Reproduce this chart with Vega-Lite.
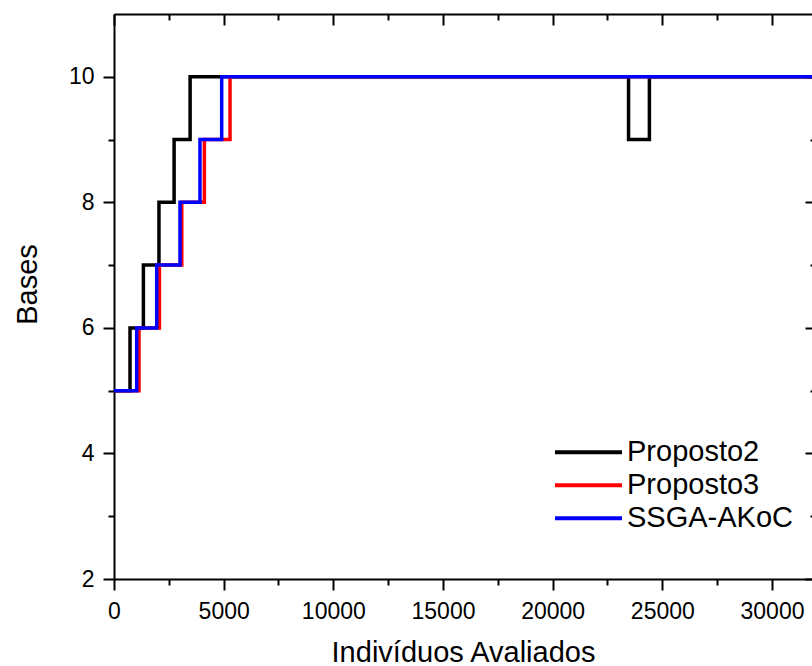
{
  "$schema": "https://vega.github.io/schema/vega-lite/v6.json",
  "width": 698,
  "height": 565,
  "autosize": {"type": "none"},
  "padding": {"left": 114, "top": 14, "right": 0, "bottom": 87},
  "background": "white",
  "config": {
    "view": {"stroke": null},
    "font": "Liberation Sans",
    "axis": {
      "grid": false,
      "domainColor": "black",
      "domainWidth": 2,
      "tickColor": "black",
      "tickWidth": 2,
      "labelColor": "black",
      "labelFont": "Liberation Sans",
      "labelFontSize": 23,
      "titleColor": "black",
      "titleFont": "Liberation Sans",
      "titleFontSize": 29,
      "titleFontWeight": "normal",
      "labelOverlap": false,
      "labelFlush": false,
      "labelBound": false
    },
    "legend": {
      "labelFont": "Liberation Sans",
      "labelFontSize": 29,
      "labelColor": "black",
      "labelLimit": 0
    }
  },
  "data": {
    "values": [
      {"series": "Proposto2", "evals": 0, "bases": 5},
      {"series": "Proposto2", "evals": 730, "bases": 6},
      {"series": "Proposto2", "evals": 1340, "bases": 7},
      {"series": "Proposto2", "evals": 2050, "bases": 8},
      {"series": "Proposto2", "evals": 2740, "bases": 9},
      {"series": "Proposto2", "evals": 3470, "bases": 10},
      {"series": "Proposto2", "evals": 23460, "bases": 9},
      {"series": "Proposto2", "evals": 24410, "bases": 10},
      {"series": "Proposto2", "evals": 32000, "bases": 10},
      {"series": "Proposto3", "evals": 0, "bases": 5},
      {"series": "Proposto3", "evals": 1140, "bases": 6},
      {"series": "Proposto3", "evals": 2070, "bases": 7},
      {"series": "Proposto3", "evals": 3090, "bases": 8},
      {"series": "Proposto3", "evals": 4120, "bases": 9},
      {"series": "Proposto3", "evals": 5290, "bases": 10},
      {"series": "Proposto3", "evals": 32000, "bases": 10},
      {"series": "SSGA-AKoC", "evals": 0, "bases": 5},
      {"series": "SSGA-AKoC", "evals": 1035, "bases": 6},
      {"series": "SSGA-AKoC", "evals": 1947, "bases": 7},
      {"series": "SSGA-AKoC", "evals": 3010, "bases": 8},
      {"series": "SSGA-AKoC", "evals": 3920, "bases": 9},
      {"series": "SSGA-AKoC", "evals": 4910, "bases": 10},
      {"series": "SSGA-AKoC", "evals": 32000, "bases": 10}
    ]
  },
  "resolve": {"axis": {"x": "independent", "y": "independent"}},
  "layer": [
    {
      "mark": {"type": "line", "interpolate": "step-after", "strokeWidth": 3.5, "strokeJoin": "miter", "strokeCap": "butt", "clip": true},
      "encoding": {
        "x": {
          "field": "evals", "type": "quantitative",
          "scale": {"domain": [0, 31824], "nice": false, "zero": false},
          "axis": {
            "orient": "bottom", "title": "Indivíduos Avaliados",
            "values": [0, 5000, 10000, 15000, 20000, 25000, 30000],
            "format": "d", "tickSize": 11, "labelPadding": 10,
            "titleY": 82, "titleBaseline": "alphabetic"
          }
        },
        "y": {
          "field": "bases", "type": "quantitative",
          "scale": {"domain": [2, 11], "nice": false, "zero": false},
          "axis": {
            "orient": "left", "title": "Bases",
            "values": [2, 4, 6, 8, 10],
            "tickSize": 11, "labelPadding": 9,
            "titleX": -78, "titleY": 270, "titleBaseline": "alphabetic"
          }
        },
        "color": {
          "field": "series", "type": "nominal",
          "scale": {"domain": ["Proposto2", "Proposto3", "SSGA-AKoC"], "range": ["#000000", "#ff0000", "#0000ff"]},
          "legend": {
            "title": null, "orient": "none", "legendX": 439, "legendY": 422,
            "symbolType": "stroke", "symbolSize": 4489, "symbolStrokeWidth": 4,
            "clipHeight": 32.5, "labelOffset": 3, "padding": 0, "rowPadding": 0,
            "labelLimit": 0
          }
        }
      }
    },
    {
      "mark": {"type": "point", "opacity": 0, "clip": true},
      "encoding": {
        "x": {
          "field": "evals", "type": "quantitative",
          "scale": {"domain": [0, 31824], "nice": false, "zero": false},
          "axis": {"orient": "bottom", "title": null, "values": [2500, 7500, 12500, 17500, 22500, 27500], "labels": false, "domain": false, "tickSize": 6}
        },
        "y": {
          "field": "bases", "type": "quantitative",
          "scale": {"domain": [2, 11], "nice": false, "zero": false},
          "axis": {"orient": "left", "title": null, "values": [3, 5, 7, 9], "labels": false, "domain": false, "tickSize": 6}
        }
      }
    },
    {
      "mark": {"type": "point", "opacity": 0, "clip": true},
      "encoding": {
        "x": {
          "field": "evals", "type": "quantitative",
          "scale": {"domain": [0, 31824], "nice": false, "zero": false},
          "axis": {"orient": "top", "title": null, "values": [0, 5000, 10000, 15000, 20000, 25000, 30000], "labels": false, "tickSize": -11}
        },
        "y": {
          "field": "bases", "type": "quantitative",
          "scale": {"domain": [2, 11], "nice": false, "zero": false},
          "axis": {"orient": "right", "title": null, "values": [2, 4, 6, 8, 10], "labels": false, "domain": false, "tickSize": -11, "offset": 4}
        }
      }
    },
    {
      "mark": {"type": "point", "opacity": 0, "clip": true},
      "encoding": {
        "x": {
          "field": "evals", "type": "quantitative",
          "scale": {"domain": [0, 31824], "nice": false, "zero": false},
          "axis": {"orient": "top", "title": null, "values": [2500, 7500, 12500, 17500, 22500, 27500], "labels": false, "domain": false, "tickSize": -6}
        },
        "y": {
          "field": "bases", "type": "quantitative",
          "scale": {"domain": [2, 11], "nice": false, "zero": false},
          "axis": {"orient": "right", "title": null, "values": [3, 5, 7, 9], "labels": false, "domain": false, "tickSize": -6, "offset": 4}
        }
      }
    }
  ]
}
